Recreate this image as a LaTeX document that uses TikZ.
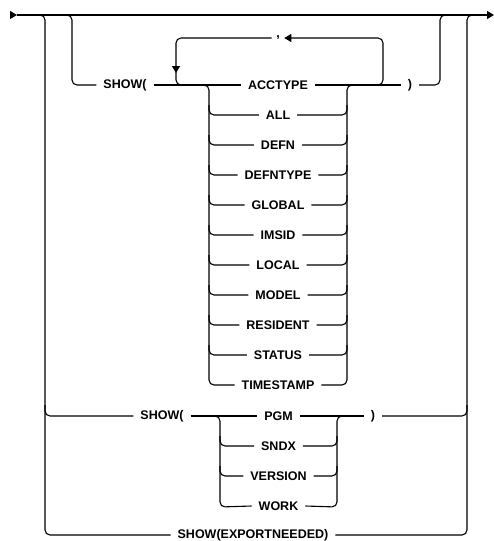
\documentclass[tikz,border=0pt]{standalone}
\usepackage{fontspec}
\setmainfont{Liberation Sans}
\usetikzlibrary{arrows.meta}

\begin{document}
\begin{tikzpicture}[x=1pt,y=-1pt,line width=1.1pt,
    every node/.style={font=\bfseries\fontsize{12.5}{15}\selectfont,inner xsep=6.5pt,inner ysep=2pt},
    rail/.style={rounded corners=5pt},
    tip/.style={-{Triangle[length=7pt,width=8pt]}}]
    \useasboundingbox (0,0) rectangle (494,541);

    % main line
    \draw[tip] (10,15) -- (17,15);
    \draw[tip] (17,15) -- (494,15);

    % SHOW( ... ) with repeatable choice
    \node (showopen) at (125,85) {SHOW(};
    \node[inner xsep=4pt] (comma) at (278,38) {,};
    \node (showclose) at (410,85) {)};
    \foreach \opt [count=\i from 0] in {ACCTYPE,ALL,DEFN,DEFNTYPE,GLOBAL,IMSID,LOCAL,MODEL,RESIDENT,STATUS,TIMESTAMP}
        \node (\opt) at (278,85+30*\i) {\opt};

    \draw[rail] (62,15) -- (72,15) -- (72,85) -- (showopen.west);
    \draw (showopen.east) -- (ACCTYPE.west);
    \draw (ACCTYPE.east) -- (showclose.west);
    \draw[rail] (showclose.east) -- (440,85) -- (440,15) -- (450,15);

    \draw[rail,tip] (375,85) -- (383,85) -- (383,38) -- (comma.east);
    \draw[rail,tip] (comma.west) -- (176,38) -- (176,73);
    \draw[rail] (176,70) -- (176,85) -- (186,85);

    \draw[rail] (200,85) -- (209,85) -- (209,385) -- (TIMESTAMP.west);
    \draw[rail] (TIMESTAMP.east) -- (347,385) -- (347,85) -- (356,85);
    \foreach \opt [count=\i from 1] in {ALL,DEFN,DEFNTYPE,GLOBAL,IMSID,LOCAL,MODEL,RESIDENT,STATUS} {
        \draw[rail] (209,75+30*\i) -- (209,85+30*\i) -- (\opt.west);
        \draw[rail] (\opt.east) -- (347,85+30*\i) -- (347,75+30*\i);
    }

    % SHOW( ... ) with single choice
    \node (showopenb) at (162,416) {SHOW(};
    \node (showcloseb) at (373,416) {)};
    \foreach \opt [count=\i from 0] in {PGM,SNDX,VERSION,WORK}
        \node (\opt) at (278.5,416+30*\i) {\opt};

    \draw[rail] (45,405) -- (45,416) -- (showopenb.west);
    \draw (showopenb.east) -- (PGM.west);
    \draw (PGM.east) -- (showcloseb.west);
    \draw[rail] (showcloseb.east) -- (467,416) -- (467,405);

    \draw[rail] (213,416) -- (220,416) -- (220,507) -- (WORK.west);
    \draw[rail] (WORK.east) -- (337,507) -- (337,416) -- (344,416);
    \foreach \opt [count=\i from 1] in {SNDX,VERSION} {
        \draw[rail] (220,406+30*\i) -- (220,416+30*\i) -- (\opt.west);
        \draw[rail] (\opt.east) -- (337,416+30*\i) -- (337,406+30*\i);
    }

    % SHOW(EXPORTNEEDED)
    \node (export) at (253,535) {SHOW(EXPORTNEEDED)};
    \draw[rail] (36,15) -- (45,15) -- (45,535) -- (export.west);
    \draw[rail] (export.east) -- (467,535) -- (467,15) -- (476,15);
\end{tikzpicture}
\end{document}
